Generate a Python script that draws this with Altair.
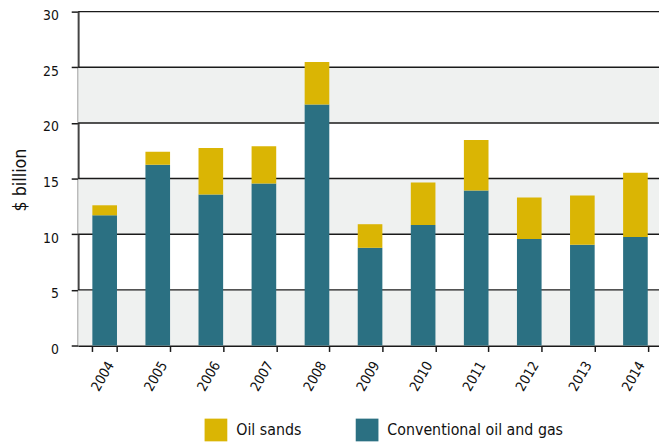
import altair as alt
import pandas as pd

# ---- data ----
years = ["2004", "2005", "2006", "2007", "2008", "2009", "2010", "2011", "2012", "2013", "2014"]
conventional = [11.7, 16.24, 13.58, 14.55, 21.65, 8.78, 10.83, 13.93, 9.58, 9.05, 9.76]
oil_sands = [0.9, 1.16, 4.17, 3.35, 3.82, 2.12, 3.81, 4.53, 3.73, 4.44, 5.77]
series = ["Oil sands", "Conventional oil and gas"]
series_colors = ["#dab504", "#2b7082"]
y_ticks = [0, 5, 10, 15, 20, 25, 30]
band_lo = [0, 10, 20]
band_hi = [5, 15, 25]

FONT = "'DejaVu Sans Condensed', 'Liberation Sans Narrow', sans-serif"

rows = []
for i, yr in enumerate(years):
    rows.append({"year": yr, "series": series[1], "value": conventional[i], "ord": 0})
    rows.append({"year": yr, "series": series[0], "value": oil_sands[i], "ord": 1})
df = pd.DataFrame(rows)

bands_df = pd.DataFrame({"lo": band_lo, "hi": band_hi})
grid_df = pd.DataFrame({"v": y_ticks[1:]})

y_scale = alt.Scale(domain=[0, 30], nice=False, zero=True)
y_axis = alt.Axis(
    values=y_ticks, title="$ billion", grid=False,
    labelFont=FONT, labelFontSize=14, labelColor="#111", labelPadding=13, labelOffset=4,
    tickSize=7, tickColor="#1a1a1a", tickWidth=1.5,
    domainColor="#444", domainWidth=2,
    titleFont=FONT, titleFontSize=18, titleFontWeight="normal", titleColor="#111",
    titleX=-58, titleY=170, titleAlign="center", titleBaseline="middle",
)

bands = alt.Chart(bands_df).mark_rect(color="#eff1f0").encode(
    y=alt.Y("lo:Q", scale=y_scale, axis=y_axis),
    y2="hi:Q",
)

grid = alt.Chart(grid_df).mark_rule(color="#1a1a1a", strokeWidth=1.5).encode(
    y=alt.Y("v:Q", scale=y_scale, axis=y_axis),
)

bars = alt.Chart(df).mark_bar().encode(
    x=alt.X(
        "year:O",
        sort=years,
        scale=alt.Scale(range=[0, 591], paddingInner=0.536, paddingOuter=0.268),
        axis=alt.Axis(
            title=None, labelAngle=300, labelAlign="right", labelBaseline="middle",
            labelFont=FONT, labelFontSize=14, labelColor="#111", labelPadding=11, labelOffset=6,
            tickBand="extent", tickSize=6, tickColor="#1a1a1a", tickWidth=1.5,
            domainColor="#1a1a1a", domainWidth=2,
        ),
    ),
    y=alt.Y("value:Q", stack="zero", scale=y_scale, axis=y_axis),
    color=alt.Color(
        "series:N",
        scale=alt.Scale(domain=series, range=series_colors),
        legend=alt.Legend(
            title=None, orient="none", legendX=128, legendY=412, direction="horizontal",
            symbolType="square", symbolSize=529, symbolStrokeWidth=0, symbolOpacity=1,
            labelFont=FONT, labelFontSize=16, labelColor="#111", labelOffset=9, labelLimit=0,
            columnPadding=55, padding=0,
        ),
    ),
    order=alt.Order("ord:Q"),
)

chart = alt.layer(bands, grid, bars).properties(
    width=588,
    height=338,
    autosize=alt.AutoSizeParams(type="none"),
    padding={"left": 71, "top": 1, "right": 0, "bottom": 96},
).configure_view(stroke=None)

chart.save("out.html", embed_options={"renderer": "svg", "actions": False})
